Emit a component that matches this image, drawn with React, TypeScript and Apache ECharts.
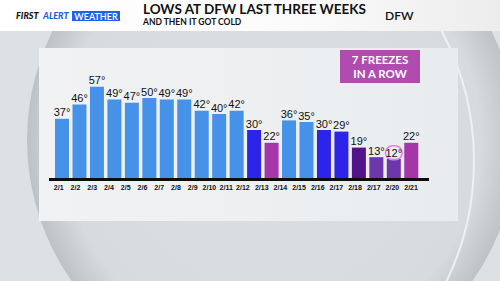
import React, { useEffect, useRef } from 'react';
import * as echarts from 'echarts';

// ---- data ----
const dates = ['2/1', '2/2', '2/3', '2/4', '2/5', '2/6', '2/7', '2/8', '2/9', '2/10', '2/11', '2/12', '2/13', '2/14', '2/15', '2/16', '2/17', '2/18', '2/17', '2/20', '2/21'];
const lows = [37, 46, 57, 49, 47, 50, 49, 49, 42, 40, 42, 30, 22, 36, 35, 30, 29, 19, 13, 12, 22];
const tiers = ['above', 'above', 'above', 'above', 'above', 'above', 'above', 'above', 'above', 'above', 'above', 'freeze', 'hard', 'above', 'above', 'freeze', 'freeze', 'severe', 'extreme', 'extreme', 'hard'];
const labelSplit = 12; // tick labels are drawn in two groups
const titleText = 'LOWS AT DFW LAST THREE WEEKS';
const subtitleText = 'AND THEN IT GOT COLD';
const placeText = 'DFW';
const calloutLines = ['7 FREEZES', 'IN A ROW'];

// ---- styles ----
const tierColors: Record<string, string> = {
  above: '#4592e8',
  freeze: '#2c24e8',
  hard: '#a436a9',
  severe: '#50138a',
  extreme: '#6c37aa',
};
const NARROW = '"Liberation Sans Narrow", "Liberation Sans", Arial, sans-serif';
const HEAD = 'Lato, "Noto Sans", sans-serif';

export default function App() {
  const ref = useRef<HTMLDivElement>(null);
  useEffect(() => {
    if (!ref.current) return;
    const chart = echarts.init(ref.current, undefined, { renderer: 'svg' });
    const minVal = Math.min(...lows);
    const barData = lows.map((v, i) => {
      const item: any = { value: v, itemStyle: { color: tierColors[tiers[i]] } };
      if (v === minVal) {
        item.label = {
          borderColor: '#f07af0',
          borderWidth: 1.5,
          borderRadius: 9,
          padding: [2, 0, 1, 0],
          distance: -1,
        };
      }
      return item;
    });
    const tickLabel = {
      show: true,
      fontSize: 7,
      fontWeight: 'bold',
      fontFamily: NARROW,
      color: '#111',
      margin: 5,
      interval: 0,
    };
    const hiddenAxis = { axisLine: { show: false }, axisTick: { show: false }, splitLine: { show: false } };
    chart.setOption({
      animation: false,
      backgroundColor: '#dde1e3',
      grid: [
        { left: 53.3, right: 80, top: 82, bottom: 103 },
        { left: 50.3, width: 201, top: 170, bottom: 102 },
        { left: 252.4, width: 168, top: 170, bottom: 102 },
      ],
      xAxis: [
        { type: 'category', gridIndex: 0, data: dates, axisLabel: { show: false }, ...hiddenAxis },
        { type: 'category', gridIndex: 1, data: dates.slice(0, labelSplit), axisLabel: tickLabel, ...hiddenAxis },
        { type: 'category', gridIndex: 2, data: dates.slice(labelSplit), axisLabel: tickLabel, ...hiddenAxis },
      ],
      yAxis: [
        { type: 'value', gridIndex: 0, min: 0, max: 60, show: false },
        { type: 'value', gridIndex: 1, show: false },
        { type: 'value', gridIndex: 2, show: false },
      ],
      series: [
        {
          type: 'bar',
          xAxisIndex: 0,
          yAxisIndex: 0,
          data: barData,
          barWidth: 14,
          label: {
            show: true,
            position: 'top',
            distance: 1,
            formatter: '{c}°',
            fontSize: 11,
            fontFamily: NARROW,
            color: '#111',
          },
        },
      ],
      graphic: [
        {
          type: 'circle',
          z: -20,
          silent: true,
          shape: { cx: 272, cy: 140, r: 245 },
          style: {
            fill: new echarts.graphic.RadialGradient(0.5, 0.5, 0.5, [
              { offset: 0, color: '#dcdfe1' },
              { offset: 0.85, color: '#d8dbdd' },
              { offset: 1, color: '#bfc2c4' },
            ]),
          },
        },
        {
          type: 'circle',
          z: -19,
          silent: true,
          shape: { cx: 197, cy: 161, r: 277 },
          style: { fill: 'none', stroke: '#eef1f3', lineWidth: 2 },
        },
        {
          type: 'rect',
          z: -15,
          silent: true,
          shape: { x: 39, y: 48, width: 419, height: 173 },
          style: {
            fill: new echarts.graphic.LinearGradient(0, 0, 1, 0, [
              { offset: 0, color: '#f1f2f4' },
              { offset: 1, color: '#e9ecee' },
            ]),
          },
        },
        {
          type: 'rect',
          z: -15,
          silent: true,
          shape: { x: 0, y: 0, width: 500, height: 31 },
          style: {
            fill: new echarts.graphic.LinearGradient(0, 0, 1, 0, [
              { offset: 0, color: '#ffffff' },
              { offset: 0.6, color: '#fbfbfb' },
              { offset: 1, color: '#ececec' },
            ]),
          },
        },
        {
          type: 'text', z: 5, x: 16, y: 15.5,
          style: { text: 'FIRST', fill: '#111', font: `italic 900 9px ${HEAD}`, verticalAlign: 'middle' },
        },
        {
          type: 'text', z: 5, x: 43, y: 15.5,
          style: { text: 'ALERT', fill: '#1a5ee6', font: `italic 900 9px ${HEAD}`, verticalAlign: 'middle' },
        },
        { type: 'rect', z: 5, shape: { x: 72, y: 11, width: 48, height: 10 }, style: { fill: '#1f62e8' } },
        {
          type: 'text', z: 6, x: 96, y: 16.3,
          style: { text: 'WEATHER', fill: '#ffffff', font: `600 9px ${HEAD}`, align: 'center', verticalAlign: 'middle' },
        },
        {
          type: 'text', z: 5, x: 143, y: 1.5,
          style: { text: titleText, fill: '#111', font: `bold 13.5px ${HEAD}`, verticalAlign: 'top' },
        },
        {
          type: 'text', z: 5, x: 143, y: 17.8,
          style: { text: subtitleText, fill: '#111', font: `bold 8.5px ${HEAD}`, verticalAlign: 'top' },
        },
        {
          type: 'text', z: 5, x: 385, y: 15,
          style: { text: placeText, fill: '#111', font: `600 12px ${HEAD}`, verticalAlign: 'middle' },
        },
        { type: 'rect', z: 5, shape: { x: 340, y: 50, width: 80, height: 33 }, style: { fill: '#b04cb0' } },
        {
          type: 'text', z: 6, x: 380, y: 66.5,
          style: {
            text: calloutLines.join('\n'),
            fill: '#ffffff',
            font: `bold 11.5px ${HEAD}`,
            lineHeight: 14,
            align: 'center',
            verticalAlign: 'middle',
          },
        },
        { type: 'rect', z: 50, shape: { x: 49, y: 178, width: 380, height: 3 }, style: { fill: '#0d0d0d' } },
      ],
    });
    return () => chart.dispose();
  }, []);
  return <div ref={ref} style={{ position: 'fixed', left: 0, top: 0, width: 500, height: 281 }} />;
}
